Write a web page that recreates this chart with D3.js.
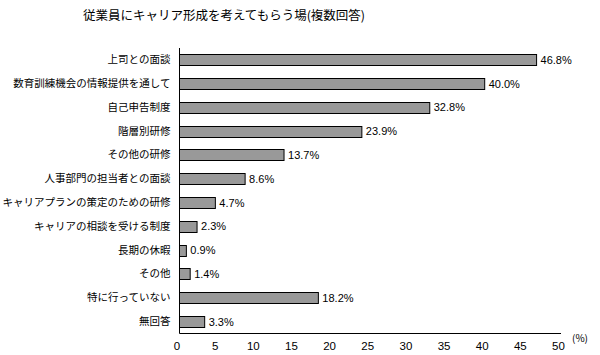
<!DOCTYPE html>
<html><head><meta charset="utf-8">
<script src="https://cdn.jsdelivr.net/npm/d3@7"></script>
<style>body{margin:0;background:#fff}</style>
</head><body>
<svg id="c" width="600" height="355"></svg>
<script>
const title = "従業員にキャリア形成を考えてもらう場(複数回答)";
const categories = ["上司との面談","数育訓練機会の情報提供を通して","自己申告制度","階層別研修","その他の研修","人事部門の担当者との面談","キャリアプランの策定のための研修","キャリアの相談を受ける制度","長期の休暇","その他","特に行っていない","無回答"];
const values = [46.8,40.0,32.8,23.9,13.7,8.6,4.7,2.3,0.9,1.4,18.2,3.3];
const xTicks = [0,5,10,15,20,25,30,35,40,45,50];
const unitLabel = "(%)";

(function(){
const svg = d3.select("#c");
const jp = "'Noto Sans CJK JP', sans-serif";
const num = "'Liberation Sans', Arial, sans-serif";
const mL = 179.5, mR = 561, mT = 48, mB = 333.5;

const x = d3.scaleLinear().domain([0,50]).range([mL,mR]);
const y = d3.scaleBand().domain(categories).range([mT,mB]).paddingInner(0.53).paddingOuter(0.265);

svg.append("text").attr("x",224).attr("y",20).attr("text-anchor","middle")
  .style("font-family",jp).style("font-size","12.5px").text(title);

svg.append("g").selectAll("rect").data(values).join("rect")
  .attr("x",x(0)).attr("y",(d,i)=>Math.round(y(categories[i]))+0.5)
  .attr("width",d=>x(d)-x(0)).attr("height",Math.round(y.bandwidth()))
  .attr("fill","#999").attr("stroke","#000").attr("stroke-width",1);

svg.append("g").selectAll("text").data(values).join("text")
  .attr("x",d=>x(d)+4).attr("y",(d,i)=>y(categories[i])+y.bandwidth()/2)
  .attr("dy","0.36em").style("font-family",num).style("font-size","11px")
  .text(d=>d.toFixed(1)+"%");

const ya = d3.axisLeft(y).tickSize(0).tickPadding(9);
const gy = svg.append("g").attr("transform",`translate(${mL},0)`).call(ya);
gy.select(".domain").attr("d",`M0,${mT}V${mB}`).attr("stroke","#000");
gy.selectAll("text").style("font-family",jp).style("font-size","10.5px").attr("fill","#000");

const xa = d3.axisBottom(x).tickValues(xTicks).tickSize(0).tickPadding(8);
const gx = svg.append("g").attr("transform",`translate(0,${mB})`).call(xa);
gx.select(".domain").attr("d",`M${mL},0H${mR}`).attr("stroke","#000");
gx.selectAll("text").attr("dx",-3).style("font-family",num).style("font-size","11.5px").attr("fill","#000");

svg.append("text").attr("x",572).attr("y",342).style("font-family",jp).style("font-size","10px").text(unitLabel);
})();
</script>
</body></html>
